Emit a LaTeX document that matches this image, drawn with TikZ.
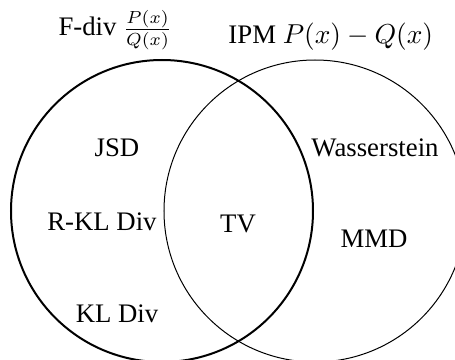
\documentclass[tikz,border=0pt]{standalone}
\usepackage{fontspec}
\setmainfont{Liberation Serif}
\usepackage{tikz}

\begin{document}
\begin{tikzpicture}[x=0.4pt, y=-0.4pt, font=\fontsize{10.7}{12.5}\selectfont,
  c/.style={circle, draw, inner sep=0pt, minimum size=120.8pt},
  h/.style={anchor=base west, inner sep=0pt},
  l/.style={inner sep=1pt}]
\clip (0,0) rectangle (455,360);
\node[c, line width=0.8pt] (fdiv) at (162,211) {};
\node[c, line width=0.4pt] (ipm) at (315,211) {};
\node[h] (fdivlbl) at (58,36) {F-div $\frac{P(x)}{Q(x)}$};
\node[h] (ipmlbl) at (228,44) {IPM $P(x)-Q(x)$};
\node[l] (jsd) at (117,148) {JSD};
\node[l] (rkl) at (102,222) {R-KL Div};
\node[l] (kl) at (117,314) {KL Div};
\node[l] (tv) at (238,224) {TV};
\node[l] (wass) at (375,148) {Wasserstein};
\node[l] (mmd) at (374,239) {MMD};
\end{tikzpicture}
\end{document}
